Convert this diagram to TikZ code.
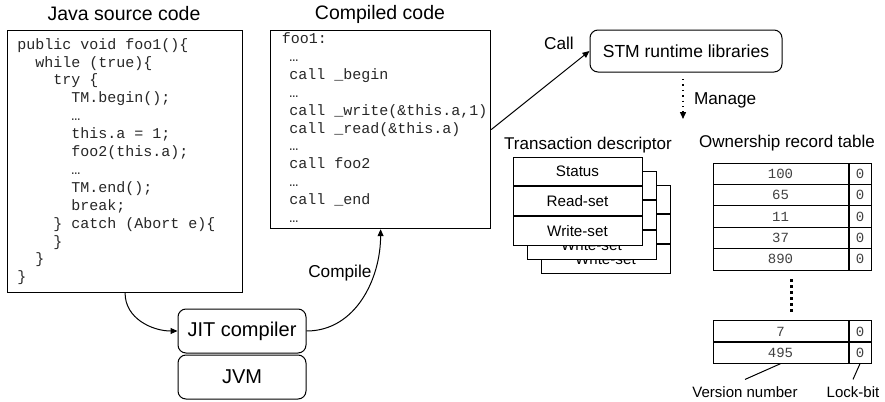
\documentclass[tikz,border=0pt]{standalone}
\usepackage{fontspec}
\setmainfont{Liberation Sans}
\newfontfamily\codefont{Liberation Mono}[WordSpace={1,0,0}]
\usetikzlibrary{positioning,arrows.meta,calc}

\begin{document}
\begin{tikzpicture}[
  x=0.5pt,y=-0.5pt,
  title/.style={font=\fontsize{9.75}{11}\selectfont},
  subtitle/.style={font=\fontsize{8.5}{10}\selectfont},
  lbl/.style={font=\fontsize{8.6}{10}\selectfont},
  codebox/.style={draw,line width=0.6pt,anchor=north west,inner sep=0pt},
  codetext/.style={anchor=west,align=left,inner sep=0pt,text=black!85,
  font=\codefont\fontsize{7.5}{8.95}\selectfont},
  rbox/.style={draw,rounded corners=4pt,line width=0.5pt,align=center},
  tdrow/.style={draw,fill=white,line width=0.5pt,minimum width=64.5pt,
  minimum height=14.3pt,inner sep=0pt,font=\fontsize{7.6}{9}\selectfont},
  vcell/.style={draw,line width=0.5pt,minimum width=67.5pt,minimum height=10.7pt,
  inner sep=0pt,font=\codefont\fontsize{7}{8}\selectfont,text=black!75},
  lcell/.style={vcell,minimum width=11pt},
  arr/.style={-{Triangle[length=3.5pt,width=3pt]},line width=0.5pt},
  dotarr/.style={-{Triangle[length=3.5pt,width=3pt]},line width=0.7pt,dotted},
  small/.style={font=\fontsize{7.5}{9}\selectfont}
]
\useasboundingbox (0,0) rectangle (885,402);

% source and compiled code
\node[title] (javat) at (124,14) {Java source code};
\node[codebox,minimum width=117.5pt,minimum height=131pt] (java) at (7,30) {};
\node[codetext] (javatxt) at ($(java.west)+(10,0)$) {%
public void foo1()\{\\
\hspace*{1.2em}while (true)\{\\
\hspace*{2.4em}try \{\\
\hspace*{3.6em}TM.begin();\\
\hspace*{3.6em}…\\
\hspace*{3.6em}this.a = 1;\\
\hspace*{3.6em}foo2(this.a);\\
\hspace*{3.6em}…\\
\hspace*{3.6em}TM.end();\\
\hspace*{3.6em}break;\\
\hspace*{2.4em}\} catch (Abort e)\{\\
\hspace*{2.4em}\}\\
\hspace*{1.2em}\}\\
\}};

\node[title] (compt) at (380,14) {Compiled code};
\node[codebox,minimum width=110pt,minimum height=99pt] (comp) at (270,30) {};
\node[codetext] (comptxt) at ($(comp.west)+(11.5,-2)$) {%
foo1:\\
\hspace*{0.5em}…\\
\hspace*{0.5em}call \_begin\\
\hspace*{0.5em}…\\
\hspace*{0.5em}call \_write(\&this.a,1)\\
\hspace*{0.5em}call \_read(\&this.a)\\
\hspace*{0.5em}…\\
\hspace*{0.5em}call foo2\\
\hspace*{0.5em}…\\
\hspace*{0.5em}call \_end\\
\hspace*{0.5em}…};

% JIT and JVM
\node[rbox,minimum width=64pt,minimum height=22pt,font=\fontsize{10}{12}\selectfont] (jit) at (242,331) {JIT compiler};
\node[rbox,minimum width=64pt,minimum height=22pt,font=\fontsize{10}{12}\selectfont] (jvm) at (242,377) {JVM};

\draw[arr] (java.south) to[out=-90,in=180] (jit.west);
\draw[arr] (jit.east) to[out=0,in=-90]
  node[lbl,pos=0.7,left,inner sep=1pt] (cmpl) {Compile} (comp.south);

% runtime
\node[rbox,minimum width=96pt,minimum height=21pt,font=\fontsize{8.75}{10}\selectfont] (stm) at (686,51) {STM runtime libraries};
\draw[arr] (comp.east) -- (stm.west);
\node[lbl] (calll) at (559,43) {Call};
\coordinate (mgs) at (683,79);
\coordinate (mge) at (683,119);
\draw[dotarr] (mgs) -- (mge);
\node[lbl,anchor=west] (mgl) at (687,100) {Manage};

% transaction descriptor
\node[subtitle] (tdt) at (588,145) {Transaction descriptor};
\foreach \k in {2,1,0}{
  \node[tdrow] (st\k) at ({577.5+14*\k},{171.5+14*\k}) {Status};
  \node[tdrow,below=0pt of st\k] (rd\k) {Read-set};
  \node[tdrow,below=0pt of rd\k] (wr\k) {Write-set};
}

% ownership record table
\node[subtitle] (ort) at (787,143) {Ownership record table};
\foreach \v [count=\i] in {100,65,11,37,890}{
  \node[vcell] (v\i) at (780.5,{152.3+21.4*\i}) {\v};
  \node[lcell,right=0pt of v\i] (l\i) {0};
}
\foreach \v [count=\i] in {7,495}{
  \node[vcell] (w\i) at (780.5,{310.5+21*\i}) {\v};
  \node[lcell,right=0pt of w\i] (m\i) {0};
}
\coordinate (dtop) at (791,279);
\coordinate (dbot) at (791,312);
\draw[line width=1.5pt,dash pattern=on 1.5pt off 1.5pt] (dtop) -- (dbot);

\node[small] (vnum) at (745,392) {Version number};
\node[small] (lbit) at (853,392) {Lock-bit};
\draw[line width=0.5pt] (w2.south) -- (vnum.north);
\draw[line width=0.5pt] (m2.south) -- (lbit.north);
\end{tikzpicture}
\end{document}
